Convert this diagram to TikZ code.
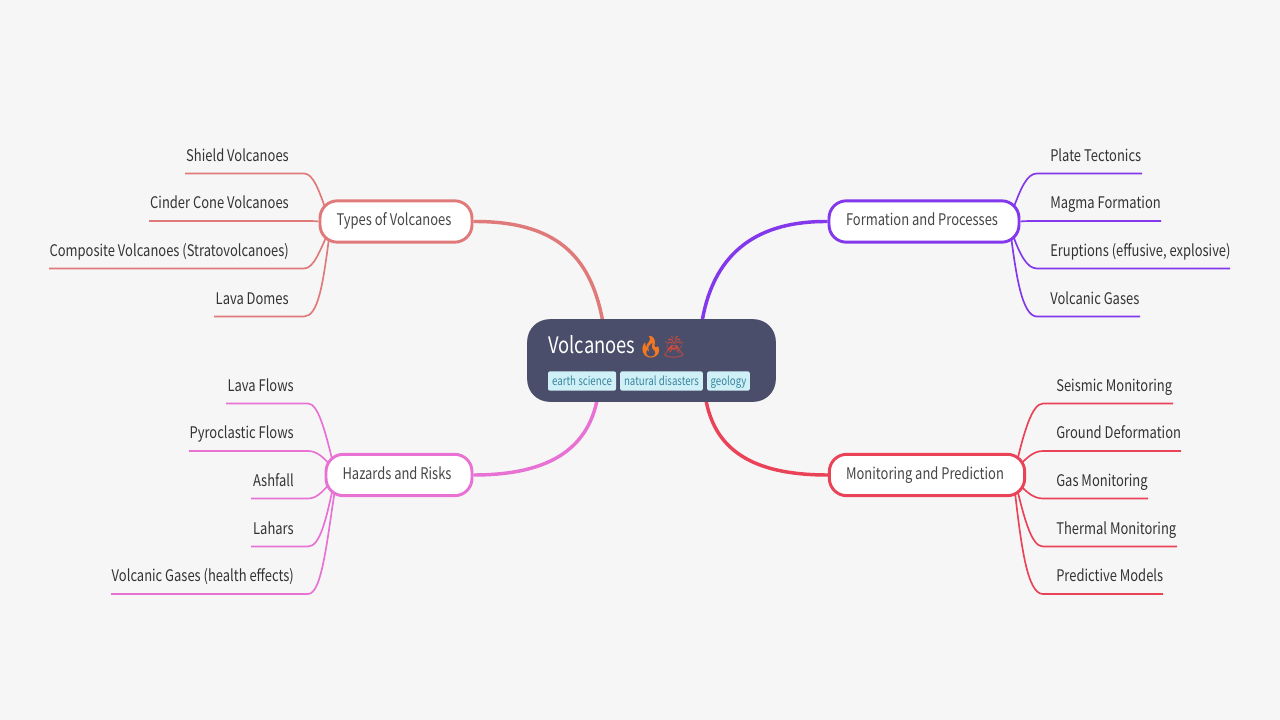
\documentclass[tikz,border=0pt]{standalone}
\usepackage{fontspec}
\setmainfont[FakeStretch=0.81]{Noto Sans CJK SC}
\newfontfamily\emojifont{Noto Emoji}
\usetikzlibrary{backgrounds,calc}

\definecolor{typescol}{RGB}{224,122,122}
\definecolor{formcol}{RGB}{131,56,236}
\definecolor{hazcol}{RGB}{232,113,212}
\definecolor{moncol}{RGB}{234,67,88}

\tikzset{
	rootbox/.style={draw={rgb, 255:red, 75; green, 78; blue, 106},fill={rgb, 255:red, 75; green, 78; blue, 106},rounded corners=16.5pt,minimum width=186pt,minimum height=61.5pt,inner sep=0pt},
	branchbox/.style={draw=#1,fill=white,line width=2.2pt,rounded corners=13pt,minimum height=31pt,inner sep=0pt,text height=9pt,text depth=3pt,text={rgb, 255:red, 70; green, 70; blue, 70},font=\fontsize{12}{14}\selectfont,execute at end node=\hspace{3pt}},
	leaftext/.style={text={rgb, 255:red, 51; green, 51; blue, 51},inner sep=0pt,text height=9pt,text depth=3pt,font=\fontsize{12}{14}\selectfont},
	tagbox/.style={fill={rgb, 255:red, 208; green, 240; blue, 248},rounded corners=1.5pt,inner sep=0pt,minimum height=14.5pt,text height=9pt,text depth=2pt,text={rgb, 255:red, 56; green, 133; blue, 155},font=\fontsize{9}{11}\selectfont},
	thickline/.style={draw=#1,line width=2.6pt},
	leafline/.style={draw=#1,line width=1.25pt},
}

\begin{document}
\begin{tikzpicture}[x=0.75pt,y=0.75pt,yscale=-1,xscale=1]
		\useasboundingbox (0,0) rectangle (1280,720);
		
		% main nodes
		\node [rootbox] (root) at (651.5,360.5) {};
		\node [branchbox=typescol,minimum width=114pt] (types) at (396,221.5) {Types of Volcanoes};
		\node [branchbox=formcol,minimum width=142.5pt] (formation) at (924,221.5) {Formation and Processes};
		\node [branchbox=hazcol,minimum width=109.5pt] (hazards) at (399,475) {Hazards and Risks};
		\node [branchbox=moncol,minimum width=146.5pt] (monitoring) at (927,475) {Monitoring and Prediction};
		
		% title and tags
		\node [anchor=west,inner sep=0pt,text=white,font=\fontsize{17}{20}\selectfont] (title) at (548,345) {Volcanoes};
		\node [anchor=west,inner sep=0pt,text={rgb, 255:red, 244; green, 120; blue, 30},font=\fontsize{16}{18}\selectfont\emojifont] (fire) at (637,347) {🔥};
		\node [anchor=west,inner sep=0pt,text={rgb, 255:red, 205; green, 75; blue, 60},font=\fontsize{16}{18}\selectfont\emojifont] (volcano) at (660,347) {🌋};
		\node [tagbox,minimum width=51pt] (earth) at (582,381) {earth science};
		\node [tagbox,minimum width=62pt] (natural) at (661.5,381) {natural disasters};
		\node [tagbox,minimum width=32pt] (geology) at (728.5,381) {geology};
		
		% leaves, types
		\node [leaftext,anchor=east] (shield) at (289,157.5) {Shield Volcanoes};
		\node [leaftext,anchor=east] (cinder) at (289,205) {Cinder Cone Volcanoes};
		\node [leaftext,anchor=east] (composite) at (289,252.5) {Composite Volcanoes (Stratovolcanoes)};
		\node [leaftext,anchor=east] (domes) at (289,300.5) {Lava Domes};
		\coordinate (shieldend) at (185,173.5);
		\coordinate (cinderend) at (149,221);
		\coordinate (compositeend) at (49,268.5);
		\coordinate (domesend) at (214,316.5);
		
		% leaves, formation
		\node [leaftext,anchor=west] (plate) at (1050,157.5) {Plate Tectonics};
		\node [leaftext,anchor=west] (magma) at (1050,205) {Magma Formation};
		\node [leaftext,anchor=west] (eruptions) at (1050,252.5) {Eruptions (effusive, explosive)};
		\node [leaftext,anchor=west] (gases) at (1050,300.5) {Volcanic Gases};
		\coordinate (plateend) at (1142,173.5);
		\coordinate (magmaend) at (1161,221);
		\coordinate (eruptionsend) at (1230,268.5);
		\coordinate (gasesend) at (1140,316.5);
		
		% leaves, hazards
		\node [leaftext,anchor=east] (flows) at (294,387.5) {Lava Flows};
		\node [leaftext,anchor=east] (pyro) at (294,434.5) {Pyroclastic Flows};
		\node [leaftext,anchor=east] (ashfall) at (294,482.5) {Ashfall};
		\node [leaftext,anchor=east] (lahars) at (294,530.5) {Lahars};
		\node [leaftext,anchor=east] (health) at (294,577.5) {Volcanic Gases (health effects)};
		\coordinate (flowsend) at (226,403.5);
		\coordinate (pyroend) at (189,451);
		\coordinate (ashfallend) at (251,498.5);
		\coordinate (laharsend) at (251,546.5);
		\coordinate (healthend) at (111,594);
		
		% leaves, monitoring
		\node [leaftext,anchor=west] (seismic) at (1056,387.5) {Seismic Monitoring};
		\node [leaftext,anchor=west] (ground) at (1056,434.5) {Ground Deformation};
		\node [leaftext,anchor=west] (gas) at (1056,482.5) {Gas Monitoring};
		\node [leaftext,anchor=west] (thermal) at (1056,530.5) {Thermal Monitoring};
		\node [leaftext,anchor=west] (predictive) at (1056,577.5) {Predictive Models};
		\coordinate (seismicend) at (1173,403.5);
		\coordinate (groundend) at (1181,451);
		\coordinate (gasend) at (1148,498.5);
		\coordinate (thermalend) at (1177,546.5);
		\coordinate (predictiveend) at (1163,594);
		
		\begin{scope}[on background layer]
		\fill [color={rgb, 255:red, 246; green, 246; blue, 246}] (0,0) rectangle (1280,720);
		
		\draw [thickline=typescol] (types.east) .. controls (555,221) and (590,255) .. (root.140);
		\draw [thickline=formcol] (formation.west) .. controls (760,221) and (715,250) .. (root.39);
		\draw [thickline=hazcol] (hazards.east) .. controls (540,475) and (585,455) .. (root.217);
		\draw [thickline=moncol] (monitoring.west) .. controls (760,475) and (717,455) .. (root.323);
		
		\draw [leafline=typescol] (shieldend) -- (304,173.5) .. controls (313,173.5) and (319,190) .. ($(types.west)+(8,-9.5)$);
		\draw [leafline=typescol] (cinderend) -- (304,221) .. controls (310,221) and (316,221) .. (types.west);
		\draw [leafline=typescol] (compositeend) -- (304,268.5) .. controls (314,268.5) and (320,250) .. ($(types.west)+(10,10.5)$);
		\draw [leafline=typescol] (domesend) -- (304,316.5) .. controls (318,316.5) and (323,285) .. ($(types.west)+(11,12.5)$);
		
		\draw [leafline=formcol] (plateend) -- (1037,173.5) .. controls (1027,173.5) and (1021,188) .. ($(formation.east)+(-7,-13.5)$);
		\draw [leafline=formcol] (magmaend) -- (1037,221) .. controls (1030,221) and (1024,221) .. (formation.east);
		\draw [leafline=formcol] (eruptionsend) -- (1037,268.5) .. controls (1027,268.5) and (1020,255) .. ($(formation.east)+(-8,12.5)$);
		\draw [leafline=formcol] (gasesend) -- (1037,316.5) .. controls (1022,316.5) and (1016,275) .. ($(formation.east)+(-10,10.5)$);
		
		\draw [leafline=hazcol] (flowsend) -- (308,403.5) .. controls (318,403.5) and (325,430) .. ($(hazards.west)+(9,-10)$);
		\draw [leafline=hazcol] (pyroend) -- (308,451) .. controls (316,451) and (323,456) .. ($(hazards.west)+(8,-7)$);
		\draw [leafline=hazcol] (ashfallend) -- (308,498.5) .. controls (316,498.5) and (322,493) .. ($(hazards.west)+(8,5)$);
		\draw [leafline=hazcol] (laharsend) -- (308,546.5) .. controls (320,546.5) and (326,520) .. ($(hazards.west)+(9,10)$);
		\draw [leafline=hazcol] (healthend) -- (308,594) .. controls (322,594) and (327,540) .. ($(hazards.west)+(11,11)$);
		
		\draw [leafline=moncol] (seismicend) -- (1043,403.5) .. controls (1032,403.5) and (1024,432) .. ($(monitoring.east)+(-10,-10)$);
		\draw [leafline=moncol] (groundend) -- (1043,451) .. controls (1034,451) and (1027,457) .. ($(monitoring.east)+(-9,-7)$);
		\draw [leafline=moncol] (gasend) -- (1043,498.5) .. controls (1034,498.5) and (1027,493) .. ($(monitoring.east)+(-9,7)$);
		\draw [leafline=moncol] (thermalend) -- (1043,546.5) .. controls (1032,546.5) and (1025,522) .. ($(monitoring.east)+(-10,10)$);
		\draw [leafline=moncol] (predictiveend) -- (1043,594) .. controls (1027,594) and (1021,545) .. ($(monitoring.east)+(-12,10)$);
		\end{scope}
		
\end{tikzpicture}
\end{document}
